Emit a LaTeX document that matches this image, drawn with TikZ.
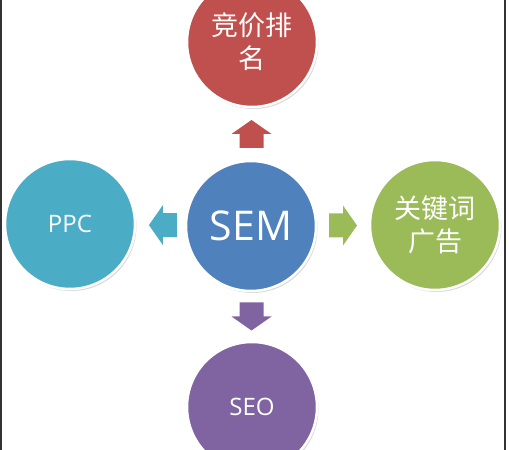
\documentclass[tikz,border=0pt]{standalone}
\usepackage{fontspec}
\setmainfont{Open Sans}
\newfontfamily\cjk{Noto Sans CJK SC}
\usetikzlibrary{positioning,calc,shadows}

\definecolor{semblue}{HTML}{4F81BD}
\definecolor{bidred}{HTML}{C0504D}
\definecolor{ppccyan}{HTML}{4BACC6}
\definecolor{kwgreen}{HTML}{9BBB59}
\definecolor{seopurple}{HTML}{8064A2}

\begin{document}
\begin{tikzpicture}[x=1pt, y=1pt,
    bubble/.style={circle, minimum size=130pt, inner sep=0pt, draw=white, line width=2.5pt, text=white,
      drop shadow={opacity=0.3, shadow xshift=1.5pt, shadow yshift=-2pt}},
    latinlabel/.style={font=\fontsize{24}{24}\selectfont},
    cnlabel/.style={font=\cjk\fontsize{27}{33}\selectfont, align=center}]
    \newcommand{\blockarrow}[3]{% position, angle, colour
        \fill[#3, shift={(#1)}, rotate=#2] (-14,-12) -- (0,-12) -- (0,-20) -- (14,0) -- (0,20) -- (0,12) -- (-14,12) -- cycle;}
    \useasboundingbox (0,0) rectangle (509,450);
    % frame edges
    \fill[black!80] (0,0) rectangle (2,450);
    \fill[black!80] (504,0) rectangle (506,450);
    % circles
    \node[bubble, fill=semblue, font=\fontsize{41}{41}\selectfont] (sem) at (251,224) {SEM};
    \node[bubble, fill=bidred, cnlabel] (bid) at (252,408) {竞价排\\名};
    \node[bubble, fill=ppccyan, latinlabel] (ppc) at (70,226) {PPC};
    \node[bubble, fill=kwgreen, cnlabel] (kw) at (435,225) {关键词\\广告};
    \node[bubble, fill=seopurple, latinlabel] (seo) at (252,43) {SEO};
    % arrows
    \blockarrow{$(sem.north)!0.5!(bid.south)$}{90}{bidred}
    \blockarrow{$(sem.west)!0.45!(ppc.east)$}{180}{ppccyan}
    \blockarrow{$(sem.east)!0.5!(kw.west)$}{0}{kwgreen}
    \blockarrow{$(sem.south)!0.5!(seo.north)$}{-90}{seopurple}
\end{tikzpicture}
\end{document}
